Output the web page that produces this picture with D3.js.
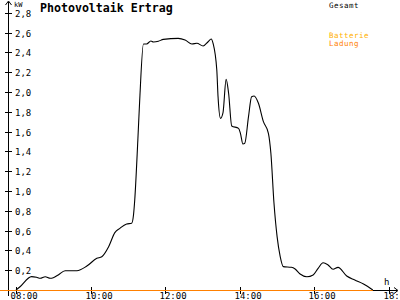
<!DOCTYPE html>
<html><head><meta charset="utf-8">
<script src="https://cdn.jsdelivr.net/npm/d3@7"></script>
<style>
html,body{margin:0;padding:0;background:#fff;}
svg{display:block;}
text{font-family:"DejaVu Sans Mono","Liberation Mono",monospace;}
</style></head>
<body>
<svg id="c" width="400" height="300"></svg>
<script>
// ---- data ----
const title = "Photovoltaik Ertrag";
const gesamtTimes = ["08:00","08:06","08:25","08:33","08:39","08:47","08:55","09:00","09:08","09:19","09:38","09:54","10:10","10:18","10:29","10:39","10:47","10:58","11:06","11:09","11:11","11:16","11:19","11:25","11:30","11:37","11:41","11:49","11:57","12:21","12:32","12:43","12:51","13:01","13:09","13:14","13:17","13:23","13:25","13:29","13:33","13:38","13:42","13:47","13:58","14:01","14:05","14:08","14:14","14:19","14:23","14:30","14:38","14:46","14:50","14:55","15:00","15:05","15:10","15:23","15:29","15:37","15:48","15:58","16:06","16:14","16:22","16:30","16:38","16:52","17:05","17:19","17:34"];
const gesamtValues = [0,0.03,0.135,0.128,0.118,0.134,0.118,0.124,0.152,0.195,0.195,0.242,0.32,0.336,0.437,0.579,0.623,0.667,0.674,0.758,0.909,1.515,1.919,2.485,2.485,2.515,2.505,2.512,2.532,2.542,2.525,2.485,2.492,2.465,2.508,2.535,2.492,2.222,1.953,1.734,1.791,2.128,1.987,1.657,1.633,1.583,1.475,1.482,1.751,1.953,1.96,1.886,1.7,1.583,1.381,0.876,0.539,0.337,0.236,0.229,0.212,0.162,0.134,0.152,0.219,0.276,0.253,0.209,0.229,0.141,0.101,0.061,0];
const ladungTimes = ["07:34","17:34"];
const ladungValues = [0,0];
const yTicks = [0.2,0.4,0.6,0.8,1.0,1.2,1.4,1.6,1.8,2.0,2.2,2.4,2.6,2.8];
const xTickLabels = ["08:00","10:00","12:00","14:00","16:00","18:00"];
const legendLabels = ["Gesamt","Batterie","Ladung"];
const legendColors = ["#000000","#ffb000","#ff8000"];

// ---- drawing ----
const svg = d3.select("#c");
const parse = s => { const [h,m] = s.split(":").map(Number); return h + m/60; };
const x = d3.scaleLinear().domain([8,18]).range([16,389]);
const y = d3.scaleLinear().domain([0,2.8]).range([290,12.8]);

// axes lines
const ax = svg.append("g").attr("shape-rendering","crispEdges");
ax.append("line").attr("x1",0).attr("x2",397).attr("y1",290.5).attr("y2",290.5).attr("stroke","#000");
ax.append("line").attr("x1",8.5).attr("x2",8.5).attr("y1",2).attr("y2",296).attr("stroke","#000");
// arrows
svg.append("path").attr("d","M394,287.5 L398,290.5 L394,293.5").attr("fill","none").attr("stroke","#000");
svg.append("path").attr("d","M5.5,5 L8.5,1 L11.5,5").attr("fill","none").attr("stroke","#000");

// y ticks
const yg = svg.append("g");
yTicks.forEach(v => {
  const yy = Math.round(y(v)) + 0.5;
  yg.append("line").attr("x1",5).attr("x2",12).attr("y1",yy).attr("y2",yy).attr("stroke","#000").attr("shape-rendering","crispEdges");
  yg.append("text").attr("x",15).attr("y",yy+3.5).attr("font-size",9).text(d3.format(".1f")(v).replace(".",","));
});
svg.append("text").attr("x",14).attr("y",7).attr("font-size",7).text("kW");

// x ticks
const xg = svg.append("g");
xTickLabels.forEach(l => {
  const xx = Math.round(x(parse(l))) + 0.5;
  xg.append("line").attr("x1",xx).attr("x2",xx).attr("y1",287).attr("y2",294).attr("stroke","#000").attr("shape-rendering","crispEdges");
  xg.append("text").attr("x",xx-6).attr("y",298.5).attr("font-size",9).text(l);
});
svg.append("text").attr("x",384).attr("y",285).attr("font-size",9).text("h");

// series
const line = d3.line().x(d => x(d[0])).y(d => y(d[1]));
svg.append("path")
  .datum(ladungTimes.map((t,i)=>[parse(t), ladungValues[i]]))
  .attr("d", line).attr("fill","none").attr("stroke",legendColors[2]).attr("stroke-width",1)
  .attr("shape-rendering","crispEdges").attr("transform","translate(0,0.5)");
svg.append("path")
  .datum(gesamtTimes.map((t,i)=>[parse(t), gesamtValues[i]]))
  .attr("d", line.curve(d3.curveMonotoneX)).attr("fill","none").attr("stroke","#000").attr("stroke-width",1.1);

// title
svg.append("text").attr("x",40).attr("y",12).attr("font-size",11.6).attr("font-weight","bold").text(title);

// legend
const legY = [7.5,37.5,45.5];
legendLabels.forEach((l,i) => {
  svg.append("text").attr("x",329).attr("y",legY[i]).attr("font-size",7.5)
    .attr("letter-spacing",0.5).attr("fill",legendColors[i]).text(l);
});
</script>
</body></html>
